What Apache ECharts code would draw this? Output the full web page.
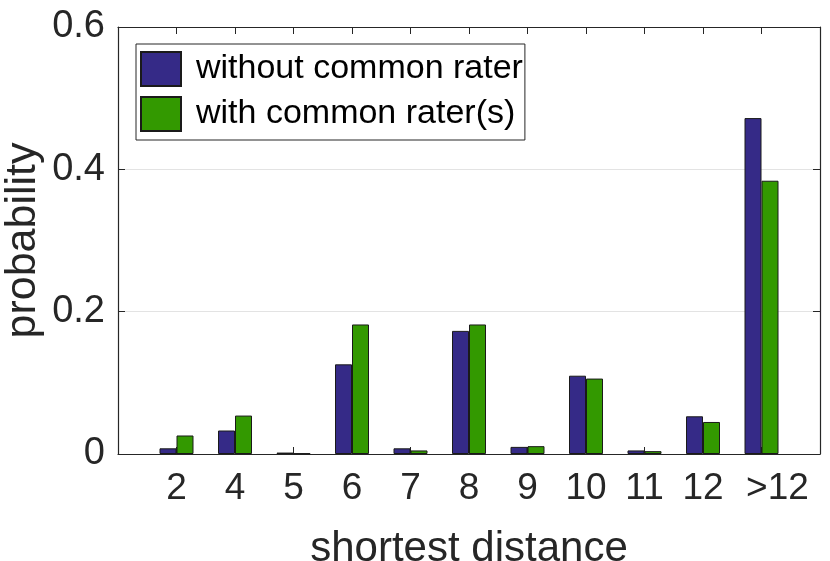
<!DOCTYPE html>
<html>
<head>
<meta charset="utf-8">
<script src="https://cdn.jsdelivr.net/npm/echarts@6/dist/echarts.min.js"></script>
<style>
    html, body { margin: 0; padding: 0; background: #fff; }
    #chart { width: 830px; height: 561px; }
</style>
</head>
<body>
<div id="chart"></div>
<script>
// distance categories (an empty slot is added on each side, like the MATLAB xlim)
var categories = ['2', '4', '5', '6', '7', '8', '9', '10', '11', '12', '>12'];
// probability, no common rater
var withoutCommon = [0.008, 0.033, 0.002, 0.126, 0.008, 0.173, 0.010, 0.110, 0.005, 0.053, 0.472];
// probability, with common rater(s)
var withCommon = [0.026, 0.054, 0.001, 0.182, 0.005, 0.182, 0.011, 0.106, 0.004, 0.045, 0.384];
var yTicks = [0, 0.2, 0.4, 0.6];

(function () {
    "use strict";
    var txt = '#262626';
    var font = 'Liberation Sans';
    var slots = [''].concat(categories, ['']);
    var pad = function (arr) {
        return [null].concat(arr, [null]);
    };

    var tick = {show: true, inside: true, length: 7, lineStyle: {color: txt, width: 1}};
    var line = {show: true, onZero: false, lineStyle: {color: txt, width: 1.2}};

    var myChart = echarts.init(document.getElementById('chart'));
    var option = {
        animation: false,
        backgroundColor: '#fff',
        textStyle: {fontFamily: font, color: txt},
        grid: {left: 118, right: 10, top: 27, bottom: 107, containLabel: false, outerBoundsMode: 'none'},
        legend: {
            orient: 'vertical',
            left: 136,
            top: 44,
            padding: [7, 2, 8, 4],
            itemWidth: 40,
            itemHeight: 34,
            itemGap: 9,
            borderColor: txt,
            borderWidth: 1,
            backgroundColor: '#fff',
            icon: 'rect',
            textStyle: {fontSize: 34, color: '#000', fontFamily: font, padding: [0, 0, 0, 10], lineHeight: 34},
            data: ['without common rater', 'with common rater(s)']
        },
        xAxis: [
            {
                type: 'category',
                data: slots,
                boundaryGap: false,
                position: 'bottom',
                name: 'shortest distance',
                nameLocation: 'middle',
                nameGap: 74,
                nameMoveOverlap: false,
                nameTextStyle: {fontSize: 42, color: txt, fontFamily: font},
                axisLine: line,
                axisTick: tick,
                axisLabel: {
                    fontSize: 37, color: txt, margin: 16, interval: 0, fontFamily: font,
                    formatter: function (v) {
                        // MATLAB put the last label a bit to the right
                        return v === '>12' ? '{r|' + v + '}' : v;
                    },
                    rich: {r: {fontSize: 37, color: txt, fontFamily: font, padding: [0, 0, 0, 32]}}
                },
                splitLine: {show: false}
            },
            {
                type: 'category',
                data: slots,
                boundaryGap: false,
                position: 'top',
                axisLine: line,
                axisTick: tick,
                axisLabel: {show: false},
                splitLine: {show: false}
            }
        ],
        yAxis: [
            {
                type: 'value',
                min: yTicks[0],
                max: yTicks[yTicks.length - 1],
                interval: 0.2,
                position: 'left',
                name: 'probability',
                nameLocation: 'middle',
                nameGap: 73,
                nameMoveOverlap: false,
                nameTextStyle: {fontSize: 43, color: txt, fontFamily: font},
                axisLine: line,
                axisTick: tick,
                axisLabel: {fontSize: 38, color: txt, margin: 13, fontFamily: font},
                splitLine: {show: true, lineStyle: {color: '#e3e3e3', width: 1}}
            },
            {
                type: 'value',
                min: yTicks[0],
                max: yTicks[yTicks.length - 1],
                interval: 0.2,
                position: 'right',
                axisLine: line,
                axisTick: tick,
                axisLabel: {show: false},
                splitLine: {show: false}
            }
        ],
        series: [
            {
                name: 'without common rater',
                type: 'bar',
                barWidth: 17,
                barGap: '0%',
                itemStyle: {color: '#352a87', borderColor: '#1a1a1a', borderWidth: 1},
                data: pad(withoutCommon)
            },
            {
                name: 'with common rater(s)',
                type: 'bar',
                barWidth: 17,
                barGap: '0%',
                itemStyle: {color: '#339900', borderColor: '#1a1a1a', borderWidth: 1},
                data: pad(withCommon)
            }
        ]
    };
    myChart.setOption(option);
})();
</script>
</body>
</html>
